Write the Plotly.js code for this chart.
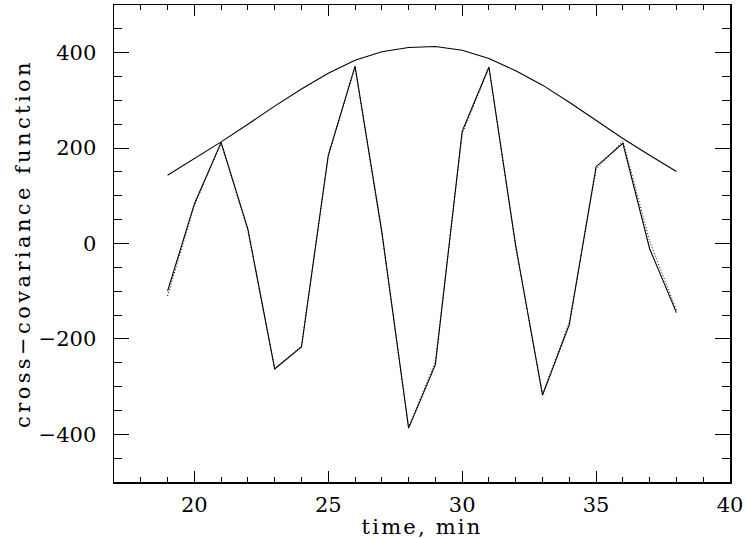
<!DOCTYPE html>
<html>
<head>
<meta charset="utf-8">
<script src="https://cdn.plot.ly/plotly-3.0.1.min.js"></script>
<style>
html,body{margin:0;padding:0;background:#fff;}
#chart{width:746px;height:539px;}
.g-xtitle text{letter-spacing:2.2px;}
.g-ytitle text{letter-spacing:3.4px;}
</style>
</head>
<body>
<div id="chart"></div>
<script>
var timeMin = [19,20,21,22,23,24,25,26,27,28,29,30,31,32,33,34,35,36,37,38];
var envelope = [143,178,213,250,288,324,357,384,402,411,413,405,388,362,332,296,258,220,185,151];
var ccfSolid = [-100,83,212,30,-263,-217,185,372,25,-387,-254,235,370,-5,-318,-170,161,210,-11,-145];
var ccfDotted = [-110,80,210,26,-262,-215,182,370,20,-385,-248,230,368,-8,-315,-165,155,215,5,-140];

var tickFnt = {family: 'DejaVu Serif, serif', size: 21, color: '#000'};
var titleFnt = {family: 'DejaVu Serif, serif', size: 21, color: '#000'};
var data = [
  {x: timeMin, y: envelope, mode: 'lines', line: {color: '#000', width: 1.1}, hoverinfo: 'skip'},
  {x: timeMin, y: ccfDotted, mode: 'lines', line: {color: '#000', width: 1, dash: '1px,2px'}, hoverinfo: 'skip'},
  {x: timeMin, y: ccfSolid, mode: 'lines', line: {color: '#000', width: 1.1}, hoverinfo: 'skip'}
];
var layout = {
  width: 746, height: 539,
  margin: {l: 114, r: 16, t: 5, b: 57},
  paper_bgcolor: '#fff', plot_bgcolor: '#fff',
  showlegend: false,
  font: tickFnt,
  xaxis: {
    range: [17, 40], tickvals: [20,25,30,35,40], ticks: 'inside', ticklen: 11, tickwidth: 1, tickcolor: '#000',
    minor: {dtick: 1, tick0: 0, ticks: 'inside', ticklen: 5, tickwidth: 1, tickcolor: '#000'},
    showline: true, linecolor: '#000', linewidth: 1.5, mirror: 'allticks', showgrid: false, zeroline: false,
    tickfont: tickFnt, ticklabelstandoff: 3,
    title: {text: 'time, min', font: titleFnt, standoff: 0}
  },
  yaxis: {
    range: [-500, 500], tickvals: [-400,-200,0,200,400], ticks: 'inside', ticklen: 15, tickwidth: 1, tickcolor: '#000',
    minor: {dtick: 50, tick0: 0, ticks: 'inside', ticklen: 8, tickwidth: 1, tickcolor: '#000'},
    showline: true, linecolor: '#000', linewidth: 1.5, mirror: 'allticks', showgrid: false, zeroline: false,
    tickfont: tickFnt, ticklabelstandoff: 12,
    title: {text: 'cross\u2212covariance function', font: titleFnt, standoff: 2}
  }
};
Plotly.newPlot('chart', data, layout, {staticPlot: true, displayModeBar: false});
</script>
</body>
</html>
